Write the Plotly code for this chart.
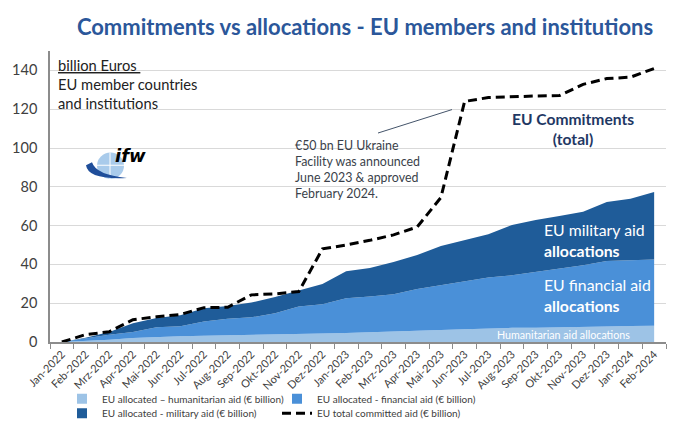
import plotly.graph_objects as go

# ---------------- data ----------------
months = ["Jan-2022", "Feb-2022", "Mrz-2022", "Apr-2022", "Mai-2022", "Jun-2022",
          "Jul-2022", "Aug-2022", "Sep-2022", "Okt-2022", "Nov-2022", "Dez-2022",
          "Jan-2023", "Feb-2023", "Mrz-2023", "Apr-2023", "Mai-2023", "Jun-2023",
          "Jul-2023", "Aug-2023", "Sep-2023", "Okt-2023", "Nov-2023", "Dez-2023",
          "Jan-2024", "Feb-2024"]
humanitarian = [0, 0.5, 1.2, 2.0, 2.6, 2.9, 3.2, 3.4, 3.5, 3.7, 4.0, 4.4, 4.7,
                5.0, 5.3, 5.8, 6.2, 6.6, 7.0, 7.3, 7.4, 7.5, 7.6, 8.0, 8.2, 8.4]
financial = [0, 1.3, 2.6, 3.2, 5.0, 5.2, 7.4, 8.6, 9.2, 11.1, 14.3, 15.1, 17.9,
             18.4, 19.3, 21.5, 23.1, 24.4, 26.2, 27.1, 28.7, 30.0, 31.9, 33.7, 34.0, 34.1]
military = [0, 0.4, 1.4, 4.5, 4.8, 5.7, 6.8, 6.6, 7.6, 8.4, 8.2, 10.4, 13.9,
            14.7, 16.6, 17.6, 20.2, 21.7, 22.4, 25.9, 26.8, 27.4, 27.6, 30.5, 31.7, 34.8]
committed = [0, 3.8, 5.3, 11.5, 13.0, 14.2, 17.7, 17.9, 24.3, 24.8, 26.0, 48.0,
             50.0, 52.4, 55.2, 59.3, 74.5, 124.0, 126.0, 126.5, 126.8, 127.0,
             132.8, 135.8, 136.5, 141.0]
y_ticks = [0, 20, 40, 60, 80, 100, 120, 140]

names = ["EU allocated \u2013 humanitarian aid (\u20ac billion)",
         "EU allocated - financial aid (\u20ac billion)",
         "EU allocated - military aid (\u20ac billion)",
         "EU total committed aid (\u20ac billion)"]

C_HUM = "#9DC3E6"
C_FIN = "#4A90D8"
C_MIL = "#1F5C99"
FONT = "Lato"
OFFX = 8                     # horizontal page offset of the figure
W, H = 680 - OFFX, 432
L, R, T, B = 50 - OFFX, 14, 43, 91
PW, PH = W - L - R, H - T - B


def px(x):
    """page x pixel -> paper x"""
    return (x - OFFX - L) / PW


def py(y):
    """page y pixel -> paper y"""
    return (H - B - y) / PH


fig = go.Figure()
for vals, col in [(humanitarian, C_HUM), (financial, C_FIN), (military, C_MIL)]:
    fig.add_trace(go.Scatter(x=months, y=vals, stackgroup="one", mode="lines",
                             line=dict(width=0, color=col), fillcolor=col,
                             showlegend=False, hoverinfo="skip"))

# legend proxies (square swatches)
fig.add_trace(go.Scatter(x=[None], y=[None], mode="markers", name=names[0],
                         marker=dict(symbol="square", size=10, color=C_HUM),
                         legend="legend"))
fig.add_trace(go.Scatter(x=[None], y=[None], mode="markers", name=names[1],
                         marker=dict(symbol="square", size=10, color=C_FIN),
                         legend="legend"))
fig.add_trace(go.Scatter(x=[None], y=[None], mode="markers", name=names[2],
                         marker=dict(symbol="square", size=10, color=C_MIL),
                         legend="legend2"))
fig.add_trace(go.Scatter(x=months, y=committed, mode="lines",
                         line=dict(color="black", width=3, dash="9px,5px"),
                         name=names[3], legend="legend2"))

legend_common = dict(orientation="h", xanchor="left", yanchor="middle",
                     entrywidth=170, entrywidthmode="pixels", traceorder="normal",
                     font=dict(family=FONT, size=10, color="#404040"),
                     bgcolor="rgba(0,0,0,0)", itemwidth=30, tracegroupgap=0)

annotations = [
    dict(text="<u>billion Euros </u><br>EU member countries<br>and institutions",
         x=px(56), y=py(46), xanchor="left", yanchor="top", align="left",
         font=dict(size=14.7, color="#222222")),
    dict(text="\u20ac50 bn EU Ukraine<br>Facility was announced<br>June 2023 & approved<br>February 2024.",
         x=px(293), y=py(130), xanchor="left", yanchor="top", align="left",
         font=dict(size=12.4, color="#3A3F4A")),
    dict(text="<b>EU Commitments<br>(total)</b>",
         x=px(573), y=py(123), xanchor="center", yanchor="middle", align="center",
         font=dict(size=15.6, color="#1F3864")),
    dict(text="EU military aid<br><b>allocations</b>",
         x=px(542), y=py(237), xanchor="left", yanchor="middle", align="left",
         font=dict(size=15.8, color="white")),
    dict(text="EU financial aid<br><b>allocations</b>",
         x=px(542), y=py(293), xanchor="left", yanchor="middle", align="left",
         font=dict(size=15.8, color="white")),
    dict(text="Humanitarian aid allocations",
         x=px(495), y=py(333), xanchor="left", yanchor="middle", align="left",
         font=dict(size=10.7, color="white")),
    dict(text="<b><i>ifw</i></b>", x=px(113), y=py(150), xanchor="left",
         yanchor="middle", font=dict(size=18, color="black", family="DejaVu Sans")),
]
for a in annotations:
    a.update(xref="paper", yref="paper", showarrow=False)
    a["font"].setdefault("family", FONT)


def pth(points):
    s = "M %f,%f" % (px(points[0][0]), py(points[0][1]))
    for q in points[1:]:
        s += " Q %f,%f %f,%f" % (px(q[0]), py(q[1]), px(q[2]), py(q[3]))
    return s + " Z"


shapes = [
    # pointer line of the Ukraine Facility note
    dict(type="line", xref="paper", yref="paper", x0=px(378), y0=py(127),
         x1=px(452), y1=py(103), line=dict(color="#44546A", width=1)),
    # ifw logo: globe + swoosh
    dict(type="circle", xref="paper", yref="paper", x0=px(97), x1=px(124),
         y0=py(174), y1=py(147), fillcolor="#A9CBEB", line=dict(width=0)),
    dict(type="line", xref="paper", yref="paper", x0=px(110), x1=px(110),
         y0=py(174), y1=py(147), line=dict(color="white", width=1)),
    dict(type="line", xref="paper", yref="paper", x0=px(97), x1=px(124),
         y0=py(160), y1=py(160), line=dict(color="white", width=1)),
    dict(type="path", xref="paper", yref="paper",
         path=pth([(86, 160), (88, 175, 127, 173), (96, 170, 92, 157)]),
         fillcolor="#1F4E9A", line=dict(width=0)),
]

fig.update_layout(
    width=W, height=H, margin=dict(l=L, r=R, t=T, b=B),
    paper_bgcolor="white", plot_bgcolor="white",
    font=dict(family=FONT, color="#404040"),
    title=dict(text="<b>Commitments vs allocations - EU members and institutions</b>",
               x=px(365), xref="paper", xanchor="center", y=1 - 19 / H,
               yanchor="middle", font=dict(family=FONT, size=22, color="#2B579A")),
    xaxis=dict(type="category", categoryorder="array", categoryarray=months,
               range=[-0.5, len(months) - 0.5], tickson="boundaries",
               ticks="outside", ticklen=5, tickcolor="#8C8C8C", tickangle=-45,
               showline=True, linecolor="#8C8C8C", linewidth=1.5, showgrid=False,
               automargin=False,
               tickfont=dict(family=FONT, size=11, color="#404040")),
    yaxis=dict(range=[0, 150], tickvals=y_ticks, showgrid=True,
               gridcolor="#D9D9D9", gridwidth=1, showline=True,
               linecolor="#8C8C8C", linewidth=1.5, zeroline=False, automargin=False,
               ticks="", ticklabelstandoff=8,
               tickfont=dict(family=FONT, size=14.5, color="#404040")),
    legend=dict(x=px(62), y=py(399), **legend_common),
    legend2=dict(x=px(62), y=py(414), **legend_common),
    annotations=annotations, shapes=shapes,
)

fig.write_html("out.html")
